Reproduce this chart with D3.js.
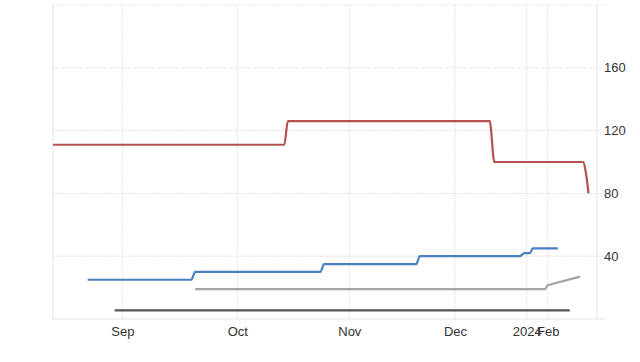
<!DOCTYPE html>
<html>
<head>
<meta charset="utf-8">
<script src="https://cdn.jsdelivr.net/npm/d3@7"></script>
<style>
  body { margin: 0; background: #fff; }
  text { font-family: "Liberation Sans", Arial, sans-serif; }
</style>
</head>
<body>
<div id="chart"></div>
<script>
// data (breakpoints of each step line)
const redDates  = ["2023-08-14", "2023-10-14", "2023-10-15", "2023-12-16", "2023-12-18", "2024-02-22", "2024-02-23", "2024-02-24", "2024-02-25"];
const redValues = [111, 111, 126, 126, 100, 100, 96, 89, 80];

const blueDates  = ["2023-08-23", "2023-09-19", "2023-09-20", "2023-10-24", "2023-10-25", "2023-11-20", "2023-11-21", "2023-12-29", "2023-12-31", "2024-01-06", "2024-01-10", "2024-02-07"];
const blueValues = [25, 25, 30, 30, 35, 35, 40, 40, 42, 42, 45, 45];

const grayDates  = ["2023-09-20", "2024-01-28", "2024-02-01", "2024-02-20"];
const grayValues = [19, 19, 21.5, 27];

const darkDates  = ["2023-08-30", "2024-02-14"];
const darkValues = [5.5, 5.5];

const monthTicks = ["2023-09-01", "2023-10-01", "2023-11-01", "2023-12-01", "2024-01-01", "2024-02-01"];
const yTicks = [40, 80, 120, 160];

// the x axis is not linear in time, so the scale is piecewise
const xAnchorDates = ["2023-08-14", "2023-09-01", "2023-10-01", "2023-11-01", "2023-12-01", "2024-01-01", "2024-02-01", "2024-03-01"];
const xAnchorFrac  = [0, 0.1274, 0.3388, 0.5447, 0.739, 0.8708, 0.9094, 1];

const margin = { top: 5, right: 43, bottom: 43, left: 53 },
  width = 640 - margin.left - margin.right,
  height = 362 - margin.top - margin.bottom;

const parse = d3.timeParse("%Y-%m-%d");

const svg = d3.select("#chart")
  .append("svg")
  .attr("width", width + margin.left + margin.right)
  .attr("height", height + margin.top + margin.bottom)
  .append("g")
  .attr("transform", "translate(" + margin.left + "," + margin.top + ")");

const x = d3.scaleTime()
  .domain(xAnchorDates.map(parse))
  .range(xAnchorFrac.map(f => f * width));

const y = d3.scaleLinear()
  .domain([0, 200])
  .range([height, 0]);

const gridColor = "#e3e3e3";

// horizontal grid (dotted), running a little past the right axis
svg.selectAll(".hgrid")
  .data(yTicks.concat([200]))
  .enter()
  .append("line")
  .attr("x1", 0)
  .attr("x2", d => d === 200 ? width + 10 : width + 6)
  .attr("y1", d => y(d))
  .attr("y2", d => y(d))
  .style("stroke", gridColor)
  .style("stroke-dasharray", "2,1");

// vertical grid
svg.selectAll(".vgrid")
  .data(monthTicks.map(parse))
  .enter()
  .append("line")
  .attr("x1", d => x(d))
  .attr("x2", d => x(d))
  .attr("y1", 0)
  .attr("y2", height)
  .style("stroke", gridColor)
  .style("stroke-dasharray", "2,1");

// frame lines
svg.append("line")
  .attr("x1", 0).attr("x2", 0).attr("y1", 0).attr("y2", height)
  .style("stroke", gridColor);
svg.append("line")
  .attr("x1", width).attr("x2", width).attr("y1", 0).attr("y2", height)
  .style("stroke", gridColor);
svg.append("line")
  .attr("x1", 0).attr("x2", width + 10).attr("y1", height).attr("y2", height)
  .style("stroke", gridColor);

// y axis labels on the right
const yAxis = svg.append("g")
  .attr("transform", "translate(" + width + ",0)")
  .call(d3.axisRight(y).tickValues(yTicks).tickSize(0).tickPadding(7));
yAxis.select(".domain").remove();
yAxis.selectAll("text")
  .style("font-size", "13px")
  .style("fill", "#333");

// x axis labels (January shows the year, as in the original)
const fmt = d => d.getMonth() === 0 ? d3.timeFormat("%Y")(d) : d3.timeFormat("%b")(d);
const xAxis = svg.append("g")
  .attr("transform", "translate(0," + height + ")")
  .call(d3.axisBottom(x).tickValues(monthTicks.map(parse)).tickFormat(fmt).tickSize(0).tickPadding(8));
xAxis.select(".domain").remove();
xAxis.selectAll("text")
  .style("font-size", "13px")
  .style("fill", "#333");

// lines
const series = [
  { dates: darkDates, values: darkValues, color: "#555555", curve: d3.curveLinear },
  { dates: grayDates, values: grayValues, color: "#a5a5a5", curve: d3.curveLinear },
  { dates: blueDates, values: blueValues, color: "#4a7fc1", curve: d3.curveMonotoneX },
  { dates: redDates, values: redValues, color: "#b3514e", curve: d3.curveMonotoneX }
];

svg.selectAll(".line")
  .data(series)
  .enter()
  .append("path")
  .attr("class", "line")
  .attr("d", s => d3.line()
    .x(d => x(d[0]))
    .y(d => y(d[1]))
    .curve(s.curve)(s.dates.map((d, i) => [parse(d), s.values[i]])))
  .style("fill", "none")
  .style("stroke", s => s.color)
  .style("stroke-width", 2.2);
</script>
</body>
</html>
